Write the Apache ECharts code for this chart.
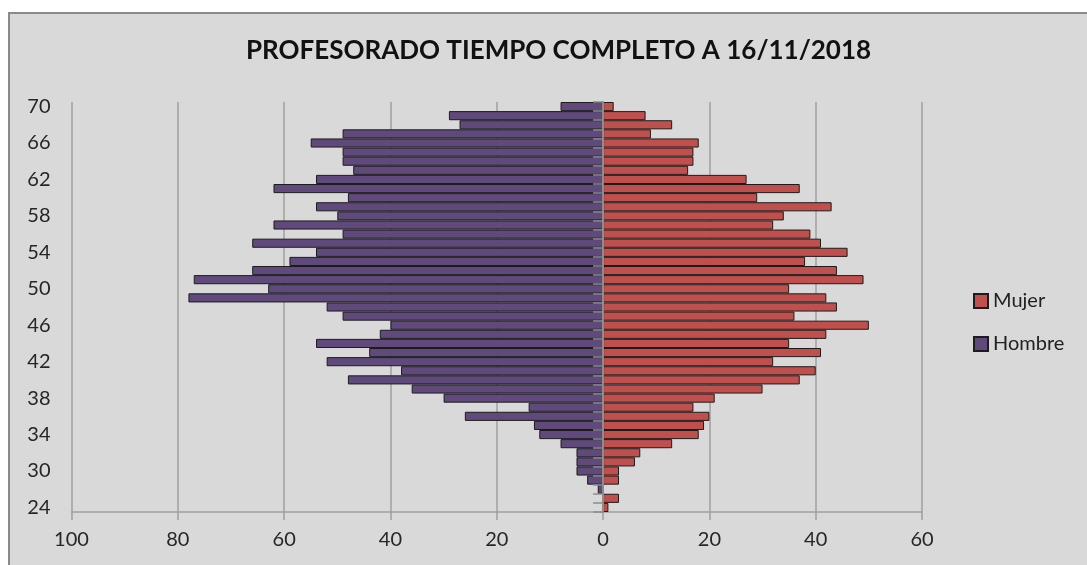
<!DOCTYPE html>
<html>
<head>
<meta charset="utf-8">
<title>Profesorado tiempo completo</title>
<script src="https://cdn.jsdelivr.net/npm/echarts/dist/echarts.min.js"></script>
<style>
  html, body { margin: 0; padding: 0; background: #fff; }
  /* marco gris del grafico */
  .marco {
    position: absolute; left: 8px; top: 12px;
    width: 1100px; height: 600px;
    background: #d9d9d9; border: 2px solid #8a8a8a;
  }
  .chart-container {
    position: absolute; left: 0; top: 0;
    width: 1087px; height: 565px;
  }
</style>
</head>
<body>
<div class="marco"></div>
<div class="chart-container" id="main"></div>
<script>
// edades (de abajo a arriba)
var edades = [24, 27, 28, 29, 30, 31, 32, 33, 34, 35, 36, 37, 38, 39, 40, 41, 42, 43, 44, 45, 46, 47,
  48, 49, 50, 51, 52, 53, 54, 55, 56, 57, 58, 59, 60, 61, 62, 63, 64, 65, 66, 67, 68, 69, 70]

var hombres = [0, 0, 1, 3, 5, 5, 5, 8, 12, 13, 26, 14, 30, 36, 48, 38, 52, 44, 54, 42, 40, 49,
  52, 78, 63, 77, 66, 59, 54, 66, 49, 62, 50, 54, 48, 62, 54, 47, 49, 49, 55, 49, 27, 29, 8]

var mujeres = [1, 3, 0, 3, 3, 6, 7, 13, 18, 19, 20, 17, 21, 30, 37, 40, 32, 41, 35, 42, 50, 36,
  44, 42, 35, 49, 44, 38, 46, 41, 39, 32, 34, 43, 29, 37, 27, 16, 17, 17, 18, 9, 13, 8, 2]

var xTicks = [-100, -80, -60, -40, -20, 0, 20, 40, 60]

var fuente = 'Lato'
var gris = '#9f9f9f'

var myChart = echarts.init(document.getElementById('main'))

var options = {
  backgroundColor: 'transparent',
  textStyle: { fontFamily: fuente },
  title: {
    text: 'PROFESORADO TIEMPO COMPLETO A 16/11/2018',
    left: 241,
    top: 33,
    textStyle: { fontFamily: fuente, fontSize: 26, fontWeight: 'bold', color: '#111' }
  },
  legend: {
    data: ['Mujer', 'Hombre'],
    orient: 'vertical',
    left: 968,
    top: 286,
    itemWidth: 14,
    itemHeight: 14,
    itemGap: 23,
    icon: 'rect',
    textStyle: { fontFamily: fuente, fontSize: 20, color: '#222' }
  },
  grid: {
    left: 71.5,
    right: 165,
    top: 102,
    bottom: 53
  },
  xAxis: {
    type: 'value',
    min: xTicks[0],
    max: xTicks[xTicks.length - 1],
    interval: 20,
    axisLine: { show: true, lineStyle: { color: gris, width: 1.5 } },
    axisTick: { show: true, length: 8, lineStyle: { color: gris, width: 1.5 } },
    splitLine: { show: true, lineStyle: { color: gris, width: 1.5 } },
    axisLabel: {
      margin: 18,
      fontSize: 20,
      color: '#262626',
      formatter: function (v) { return Math.abs(v) }
    }
  },
  yAxis: [
    {
      type: 'category',
      data: edades,
      position: 'left',
      axisLine: { show: false, onZero: false },
      axisTick: { show: false },
      axisLabel: { interval: 3, margin: 21, fontSize: 20, color: '#262626' }
    },
    {
      // eje en el cero, por encima de las barras
      type: 'category',
      data: edades,
      position: 'left',
      z: 10,
      axisLine: { show: true, onZero: true, lineStyle: { color: '#8c8c8c', width: 2 } },
      axisTick: { show: true, interval: 0, length: 10, lineStyle: { color: '#8c8c8c', width: 1.5 } },
      axisLabel: { show: false }
    }
  ],
  series: [
    {
      name: 'Hombre',
      type: 'bar',
      stack: 'total',
      barCategoryGap: '0%',
      itemStyle: { color: '#5f4a7b', borderColor: '#1c1c1c', borderWidth: 1 },
      data: hombres.map(function (v) { return v ? -v : '-' })
    },
    {
      name: 'Mujer',
      type: 'bar',
      stack: 'total',
      barCategoryGap: '0%',
      itemStyle: { color: '#c0504d', borderColor: '#1c1c1c', borderWidth: 1 },
      data: mujeres.map(function (v) { return v ? v : '-' })
    }
  ]
}

myChart.setOption(options)
</script>
</body>
</html>
